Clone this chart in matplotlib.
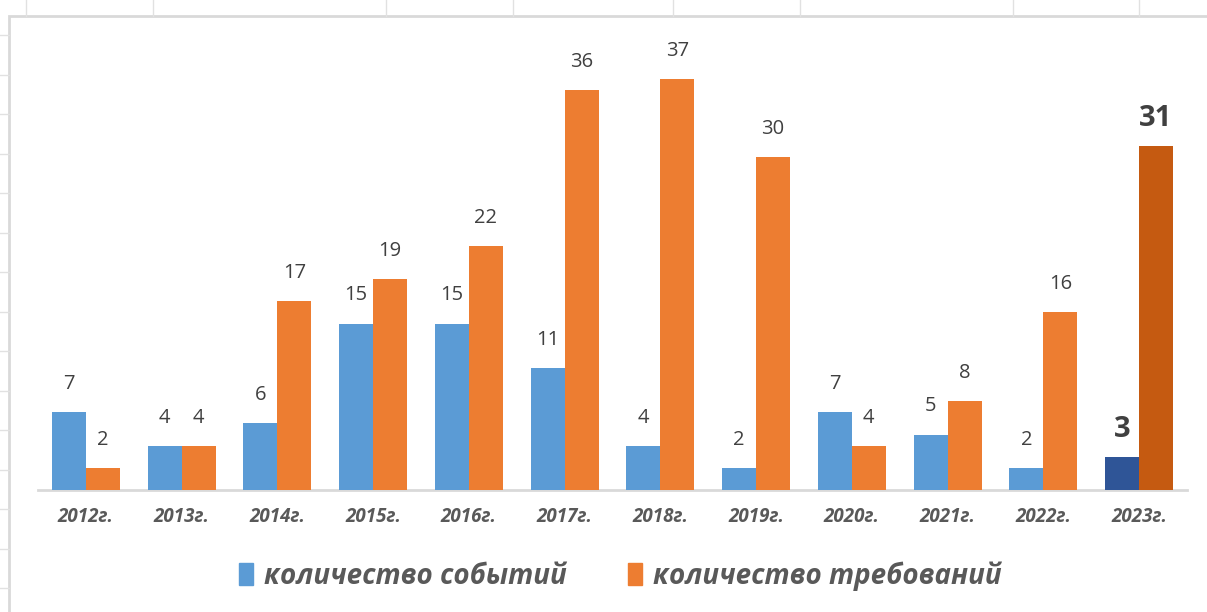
import numpy as np
import matplotlib.pyplot as plt
from matplotlib.lines import Line2D
from matplotlib.patches import Rectangle

plt.rcParams['font.family'] = ['Open Sans', 'DejaVu Sans']

# data
years = ["2012г.", "2013г.", "2014г.", "2015г.", "2016г.", "2017г.",
         "2018г.", "2019г.", "2020г.", "2021г.", "2022г.", "2023г."]
events = [7, 4, 6, 15, 15, 11, 4, 2, 7, 5, 2, 3]
claims = [2, 4, 17, 19, 22, 36, 37, 30, 4, 8, 16, 31]
label_events = "количество событий"
label_claims = "количество требований"

blue, orange = "#5B9BD5", "#ED7D31"
blue_hl, orange_hl = "#2F5597", "#C55A11"
txt = "#404040"

W, H = 1207, 612
fig = plt.figure(figsize=(W / 100, H / 100), dpi=100)

# spreadsheet cell lines behind the chart object
grid_c = "#E1E1E1"
for x in [26, 153, 386, 513, 673, 800, 1013, 1139]:
    fig.add_artist(Line2D([x / W, x / W], [1, 1 - 16 / H], color=grid_c, lw=1))
for y in np.arange(35, 612, 39.5):
    fig.add_artist(Line2D([0, 9 / W], [1 - y / H, 1 - y / H], color=grid_c, lw=1))
fig.add_artist(Rectangle((9 / W, -0.01), 1.02 - 9 / W, 1 - 16 / H + 0.01,
                         transform=fig.transFigure, facecolor="white",
                         edgecolor="#D9D9D9", lw=2, zorder=0))

ax = fig.add_axes([38 / W, 1 - 490 / H, (1187 - 38) / W, (490 - 46) / H])
ax.set_facecolor("none")

x = np.arange(len(years))
w = 0.355
c_ev = [blue] * (len(years) - 1) + [blue_hl]
c_cl = [orange] * (len(years) - 1) + [orange_hl]
b1 = ax.bar(x - w / 2, events, w, color=c_ev, label=label_events, zorder=3)
b2 = ax.bar(x + w / 2, claims, w, color=c_cl, label=label_claims, zorder=3)

last = len(years) - 1
for bars, vals in [(b1, events), (b2, claims)]:
    for i, (r, v) in enumerate(zip(bars, vals)):
        if i == last:
            ax.annotate(str(v), (r.get_x() + r.get_width() / 2, v),
                        xytext=(0, 9), textcoords="offset points",
                        ha="center", va="bottom", fontsize=21,
                        fontweight="bold", color=txt)
        else:
            ax.annotate(str(v), (r.get_x() + r.get_width() / 2, v),
                        xytext=(0, 13), textcoords="offset points",
                        ha="center", va="bottom", fontsize=14.5, color=txt)

ax.set_xlim(-0.5, len(years) - 0.5)
ax.set_ylim(0, 40)
ax.set_yticks([])
ax.set_xticks(x)
ax.set_xticklabels(years, fontsize=13.5, fontweight="bold", style="italic",
                   color="#595959")
ax.tick_params(axis="x", length=0, pad=12)
for s in ["top", "right", "left"]:
    ax.spines[s].set_visible(False)
ax.spines["bottom"].set_color("#D9D9D9")
ax.spines["bottom"].set_linewidth(2)

# legend uses the normal series colours
handles = [Rectangle((0, 0), 1, 1, color=blue), Rectangle((0, 0), 1, 1, color=orange)]
leg = fig.legend(handles, [label_events, label_claims], loc="center",
                 bbox_to_anchor=(620 / W, 1 - 576 / H), ncol=2, frameon=False,
                 handlelength=0.5, handleheight=0.85, handletextpad=0.4,
                 columnspacing=2.2,
                 prop={"size": 20, "weight": "bold", "style": "italic"})
for t in leg.get_texts():
    t.set_color("#595959")

fig.savefig("out.png", dpi=100)
